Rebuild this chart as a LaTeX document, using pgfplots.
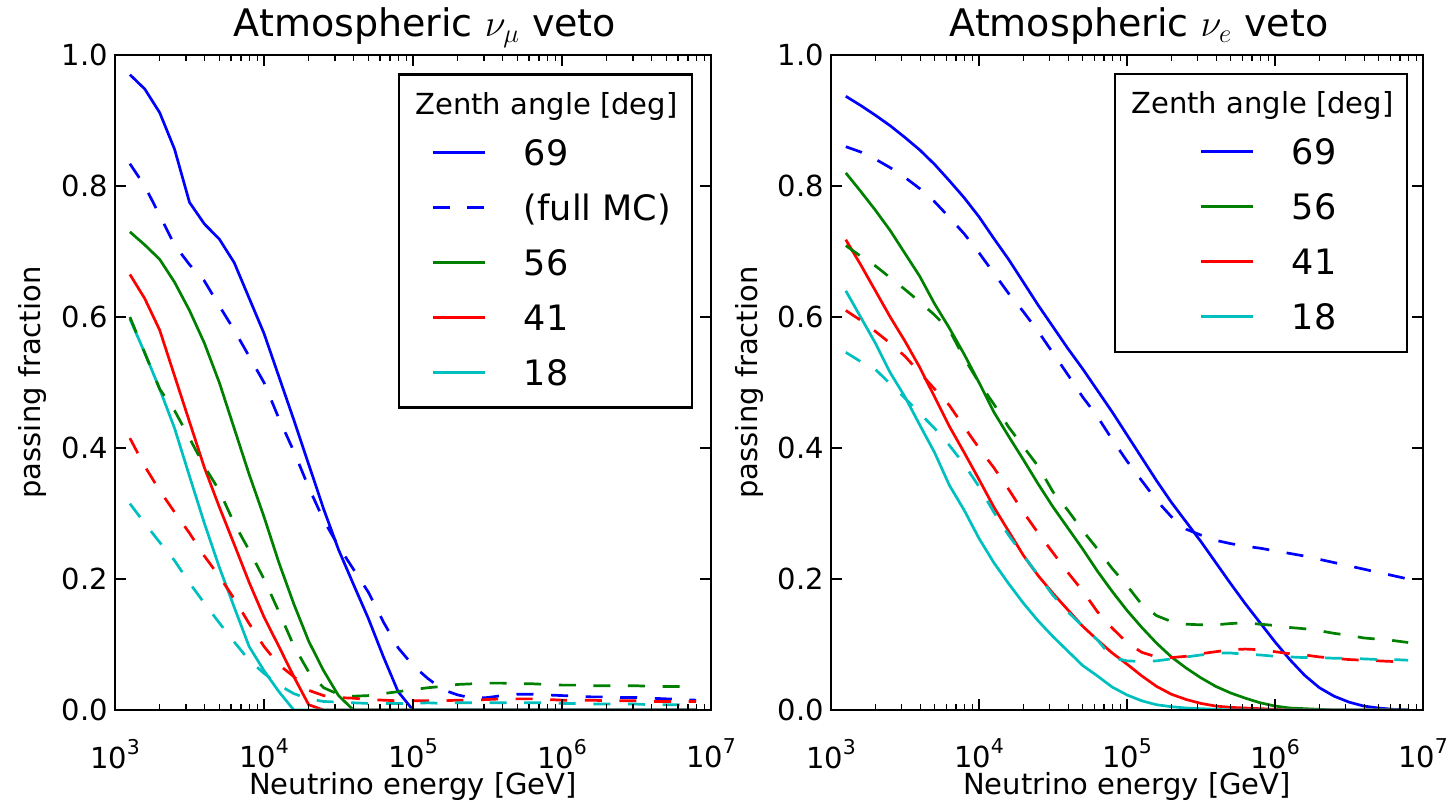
\documentclass[border=0pt]{standalone}
\usepackage{fix-cm}
\usepackage{pgfplots}
\usepackage{pgfplotstable}
\pgfplotsset{compat=1.18}
\usepackage{fontspec}
\setmainfont{DejaVu Sans}

\definecolor{mblue}{RGB}{0,0,255}
\definecolor{mgreen}{RGB}{0,128,0}
\definecolor{mred}{RGB}{255,0,0}
\definecolor{mcyan}{RGB}{0,191,191}

% columns: L = log10(E/GeV); b,g,r,c = solid (69,56,41,18 deg); bd,gd,rd,cd = dashed (full MC)
\pgfplotstableread{
L   b     bd    g     gd    r     rd    c     cd
3.1 0.970 0.834 0.730 0.600 0.665 0.415 0.597 0.315
3.2 0.948 0.800 0.710 0.545 0.628 0.372 0.545 0.285
3.3 0.912 0.755 0.688 0.490 0.580 0.335 0.490 0.256
3.4 0.856 0.710 0.653 0.457 0.510 0.302 0.430 0.228
3.5 0.775 0.680 0.610 0.415 0.440 0.270 0.357 0.194
3.6 0.742 0.655 0.560 0.372 0.370 0.235 0.285 0.163
3.7 0.719 0.617 0.500 0.335 0.310 0.204 0.218 0.133
3.8 0.683 0.580 0.430 0.285 0.253 0.170 0.157 0.104
3.9 0.629 0.540 0.360 0.244 0.195 0.132 0.097 0.076
4.0 0.575 0.500 0.295 0.200 0.142 0.097 0.060 0.056
4.1 0.509 0.445 0.225 0.150 0.097 0.069 0.028 0.038
4.2 0.443 0.395 0.162 0.098 0.051 0.051 0.000 0.025
4.3 0.375 0.340 0.105 0.058 0.008 0.030 0.000 0.017
4.4 0.307 0.290 0.060 0.034 0.000 0.022 0.000 0.013
4.5 0.245 0.250 0.022 0.024 0.000 0.019 0.000 0.012
4.6 0.192 0.215 0.000 0.021 0.000 0.018 0.000 0.011
4.7 0.140 0.180 0.000 0.022 0.000 0.016 0.000 0.010
4.8 0.082 0.135 0.000 0.025 0.000 0.015 0.000 0.010
4.9 0.028 0.095 0.000 0.028 0.000 0.014 0.000 0.010
5.0 0.000 0.068 0.000 0.031 0.000 0.014 0.000 0.010
5.1 0.000 0.048 0.000 0.034 0.000 0.014 0.000 0.011
5.2 0.000 0.031 0.000 0.036 0.000 0.014 0.000 0.010
5.3 0.000 0.023 0.000 0.039 0.000 0.015 0.000 0.011
5.4 0.000 0.018 0.000 0.040 0.000 0.015 0.000 0.011
5.5 0.000 0.019 0.000 0.041 0.000 0.016 0.000 0.011
5.6 0.000 0.022 0.000 0.041 0.000 0.017 0.000 0.011
5.7 0.000 0.024 0.000 0.040 0.000 0.017 0.000 0.011
5.8 0.000 0.024 0.000 0.040 0.000 0.017 0.000 0.011
5.9 0.000 0.023 0.000 0.039 0.000 0.016 0.000 0.011
6.0 0.000 0.022 0.000 0.038 0.000 0.015 0.000 0.010
6.1 0.000 0.021 0.000 0.038 0.000 0.015 0.000 0.010
6.2 0.000 0.020 0.000 0.037 0.000 0.015 0.000 0.009
6.3 0.000 0.020 0.000 0.037 0.000 0.014 0.000 0.009
6.4 0.000 0.019 0.000 0.037 0.000 0.014 0.000 0.009
6.5 0.000 0.019 0.000 0.037 0.000 0.014 0.000 0.009
6.6 0.000 0.018 0.000 0.036 0.000 0.013 0.000 0.008
6.7 0.000 0.017 0.000 0.036 0.000 0.013 0.000 0.008
6.8 0.000 0.016 0.000 0.036 0.000 0.013 0.000 0.008
6.9 0.000 0.015 0.000 0.035 0.000 0.013 0.000 0.008
}\numu

\pgfplotstableread{
L   b     bd    g     gd    r     rd    c     cd
3.1 0.937 0.860 0.820 0.709 0.718 0.610 0.640 0.546
3.2 0.923 0.852 0.792 0.693 0.680 0.595 0.600 0.532
3.3 0.908 0.841 0.763 0.678 0.640 0.578 0.560 0.520
3.4 0.892 0.828 0.732 0.660 0.600 0.560 0.515 0.498
3.5 0.874 0.813 0.697 0.642 0.563 0.540 0.478 0.476
3.6 0.855 0.796 0.662 0.623 0.523 0.515 0.435 0.453
3.7 0.833 0.776 0.620 0.603 0.478 0.490 0.393 0.430
3.8 0.808 0.752 0.583 0.580 0.433 0.465 0.343 0.404
3.9 0.782 0.727 0.543 0.537 0.393 0.432 0.305 0.375
4.0 0.753 0.698 0.500 0.500 0.352 0.400 0.262 0.341
4.1 0.720 0.667 0.455 0.467 0.310 0.370 0.225 0.302
4.2 0.688 0.636 0.418 0.432 0.273 0.337 0.193 0.267
4.3 0.653 0.608 0.382 0.402 0.236 0.302 0.163 0.236
4.4 0.618 0.578 0.345 0.372 0.205 0.270 0.136 0.206
4.5 0.585 0.545 0.310 0.333 0.178 0.240 0.112 0.175
4.6 0.552 0.512 0.278 0.305 0.153 0.210 0.090 0.150
4.7 0.521 0.478 0.246 0.274 0.128 0.182 0.068 0.128
4.8 0.488 0.448 0.212 0.246 0.107 0.150 0.052 0.107
4.9 0.455 0.413 0.181 0.216 0.087 0.125 0.035 0.080
5.0 0.420 0.380 0.152 0.190 0.070 0.103 0.023 0.075
5.1 0.385 0.350 0.126 0.161 0.052 0.088 0.014 0.074
5.2 0.350 0.320 0.102 0.144 0.036 0.081 0.008 0.075
5.3 0.317 0.295 0.081 0.135 0.024 0.080 0.005 0.078
5.4 0.287 0.276 0.064 0.131 0.016 0.082 0.003 0.081
5.5 0.257 0.267 0.049 0.130 0.010 0.086 0.002 0.084
5.6 0.225 0.259 0.036 0.130 0.006 0.089 0.001 0.087
5.7 0.193 0.254 0.026 0.132 0.004 0.092 0.000 0.087
5.8 0.162 0.250 0.018 0.133 0.003 0.093 0.000 0.085
5.9 0.133 0.247 0.011 0.131 0.002 0.092 0.000 0.084
6.0 0.104 0.243 0.006 0.129 0.001 0.089 0.000 0.082
6.1 0.077 0.239 0.003 0.126 0.000 0.086 0.000 0.081
6.2 0.053 0.235 0.002 0.124 0.000 0.084 0.000 0.080
6.3 0.034 0.230 0.001 0.121 0.000 0.081 0.000 0.080
6.4 0.021 0.225 0.000 0.117 0.000 0.079 0.000 0.079
6.5 0.012 0.220 0.000 0.114 0.000 0.077 0.000 0.079
6.6 0.006 0.215 0.000 0.110 0.000 0.076 0.000 0.078
6.7 0.003 0.210 0.000 0.108 0.000 0.075 0.000 0.077
6.8 0.001 0.205 0.000 0.106 0.000 0.074 0.000 0.077
6.9 0.000 0.200 0.000 0.103 0.000 0.074 0.000 0.076
}\nue

\newcommand\tp[1]{10\raisebox{7pt}{\fontsize{10.2}{12}\selectfont #1}}
\newcommand\lent[2]{\raisebox{0pt}[15pt][2.2pt]{\makebox[#2][l]{#1}}}
\newcommand\ltit[1]{\raisebox{0pt}[11pt][0pt]{\makebox[0pt][l]{\hspace{#1}\fontsize{14.5}{17}\selectfont Zenth angle [deg]}}}

\pgfplotsset{
  every axis title shift=0pt,
  panel/.style={
    scale only axis, height=327.5pt,
    xmin=3, xmax=7, ymin=0, ymax=1,
    axis on top,
    xtick={3,4,5,6,7},
    xticklabels={\tp{3},\tp{4},\tp{5},\tp{6},\tp{7}},
    minor xtick={3.30103,3.47712,3.60206,3.69897,3.77815,3.84510,3.90309,3.95424,
                 4.30103,4.47712,4.60206,4.69897,4.77815,4.84510,4.90309,4.95424,
                 5.30103,5.47712,5.60206,5.69897,5.77815,5.84510,5.90309,5.95424,
                 6.30103,6.47712,6.60206,6.69897,6.77815,6.84510,6.90309,6.95424},
    ytick={0,0.2,0.4,0.6,0.8,1.0},
    yticklabel style={/pgf/number format/.cd, fixed, fixed zerofill, precision=1, assume math mode=true},
    tick label style={font=\fontsize{14.5}{17}\selectfont},
    xticklabel style={yshift=-11pt},
    tick align=inside,
    major tick length=5.5pt, minor tick length=2.8pt,
    every tick/.style={black, line width=0.6pt},
    axis line style={line width=1.35pt},
    xlabel={Neutrino energy [GeV]},
    ylabel={passing fraction},
    every axis x label/.style={at={([yshift=-38.5pt]axis description cs:0.5,0)}, anchor=center, font=\fontsize{14.5}{17}\selectfont},
    every axis y label/.style={at={([xshift=-41pt]axis description cs:0,0.5)}, rotate=90, anchor=center, font=\fontsize{14.5}{17}\selectfont},
    title style={at={(axis description cs:0.5,1)}, anchor=base, yshift=9pt, xshift=6pt, font=\fontsize{19}{22}\selectfont},
    legend image code/.code={\draw[##1] (0pt,0pt) -- (26pt,0pt);},
    legend style={at={(axis description cs:1,1)}, anchor=north east,
      draw=black, line width=1.2pt, fill=white,
      font=\fontsize{17.5}{20}\selectfont,
      cells={anchor=west},
      nodes={inner sep=0pt, text depth=, text height=},
      column sep=18.85pt, row sep=10.3pt, inner ysep=9pt},
  },
  cl/.style={line width=1.35pt, line join=round},
  dsh/.style={dash pattern=on 8.5pt off 8.8pt},
}

\begin{document}
\begin{tikzpicture}
\useasboundingbox (0,0) rectangle (724pt,401pt);

\begin{axis}[panel, width=298pt, at={(57.5pt,46pt)}, anchor=south west,
  title={Atmospheric $\nu_\mu$ veto},
  legend style={xshift=-8.85pt, yshift=-9.15pt, inner xsep=16.1pt}]
\addlegendimage{empty legend}
\addlegendentry{\ltit{-54.7pt}}
\addplot[cl, mblue] table[x=L, y=b] {\numu};
\addlegendentry{\lent{69}{68pt}}
\addplot[cl, mblue, dsh] table[x=L, y=bd] {\numu};
\addlegendentry{\lent{(full MC)}{68pt}}
\addplot[cl, mgreen] table[x=L, y=g] {\numu};
\addlegendentry{\lent{56}{68pt}}
\addplot[cl, mred] table[x=L, y=r] {\numu};
\addlegendentry{\lent{41}{68pt}}
\addplot[cl, mcyan] table[x=L, y=c] {\numu};
\addlegendentry{\lent{18}{68pt}}
\addplot[cl, mgreen, dsh, forget plot] table[x=L, y=gd] {\numu};
\addplot[cl, mred, dsh, forget plot] table[x=L, y=rd] {\numu};
\addplot[cl, mcyan, dsh, forget plot] table[x=L, y=cd] {\numu};
\end{axis}

\begin{axis}[panel, width=296pt, at={(415.5pt,46pt)}, anchor=south west,
  title={Atmospheric $\nu_e$ veto},
  legend style={xshift=-7.35pt, yshift=-8.85pt, inner xsep=42.1pt}]
\addlegendimage{empty legend}
\addlegendentry{\ltit{-80.7pt}}
\addplot[cl, mblue] table[x=L, y=b] {\nue};
\addlegendentry{\lent{69}{15.5pt}}
\addplot[cl, mgreen] table[x=L, y=g] {\nue};
\addlegendentry{\lent{56}{15.5pt}}
\addplot[cl, mred] table[x=L, y=r] {\nue};
\addlegendentry{\lent{41}{15.5pt}}
\addplot[cl, mcyan] table[x=L, y=c] {\nue};
\addlegendentry{\lent{18}{15.5pt}}
\addplot[cl, mblue, dsh, forget plot] table[x=L, y=bd] {\nue};
\addplot[cl, mgreen, dsh, forget plot] table[x=L, y=gd] {\nue};
\addplot[cl, mred, dsh, forget plot] table[x=L, y=rd] {\nue};
\addplot[cl, mcyan, dsh, forget plot] table[x=L, y=cd] {\nue};
\end{axis}
\end{tikzpicture}
\end{document}
